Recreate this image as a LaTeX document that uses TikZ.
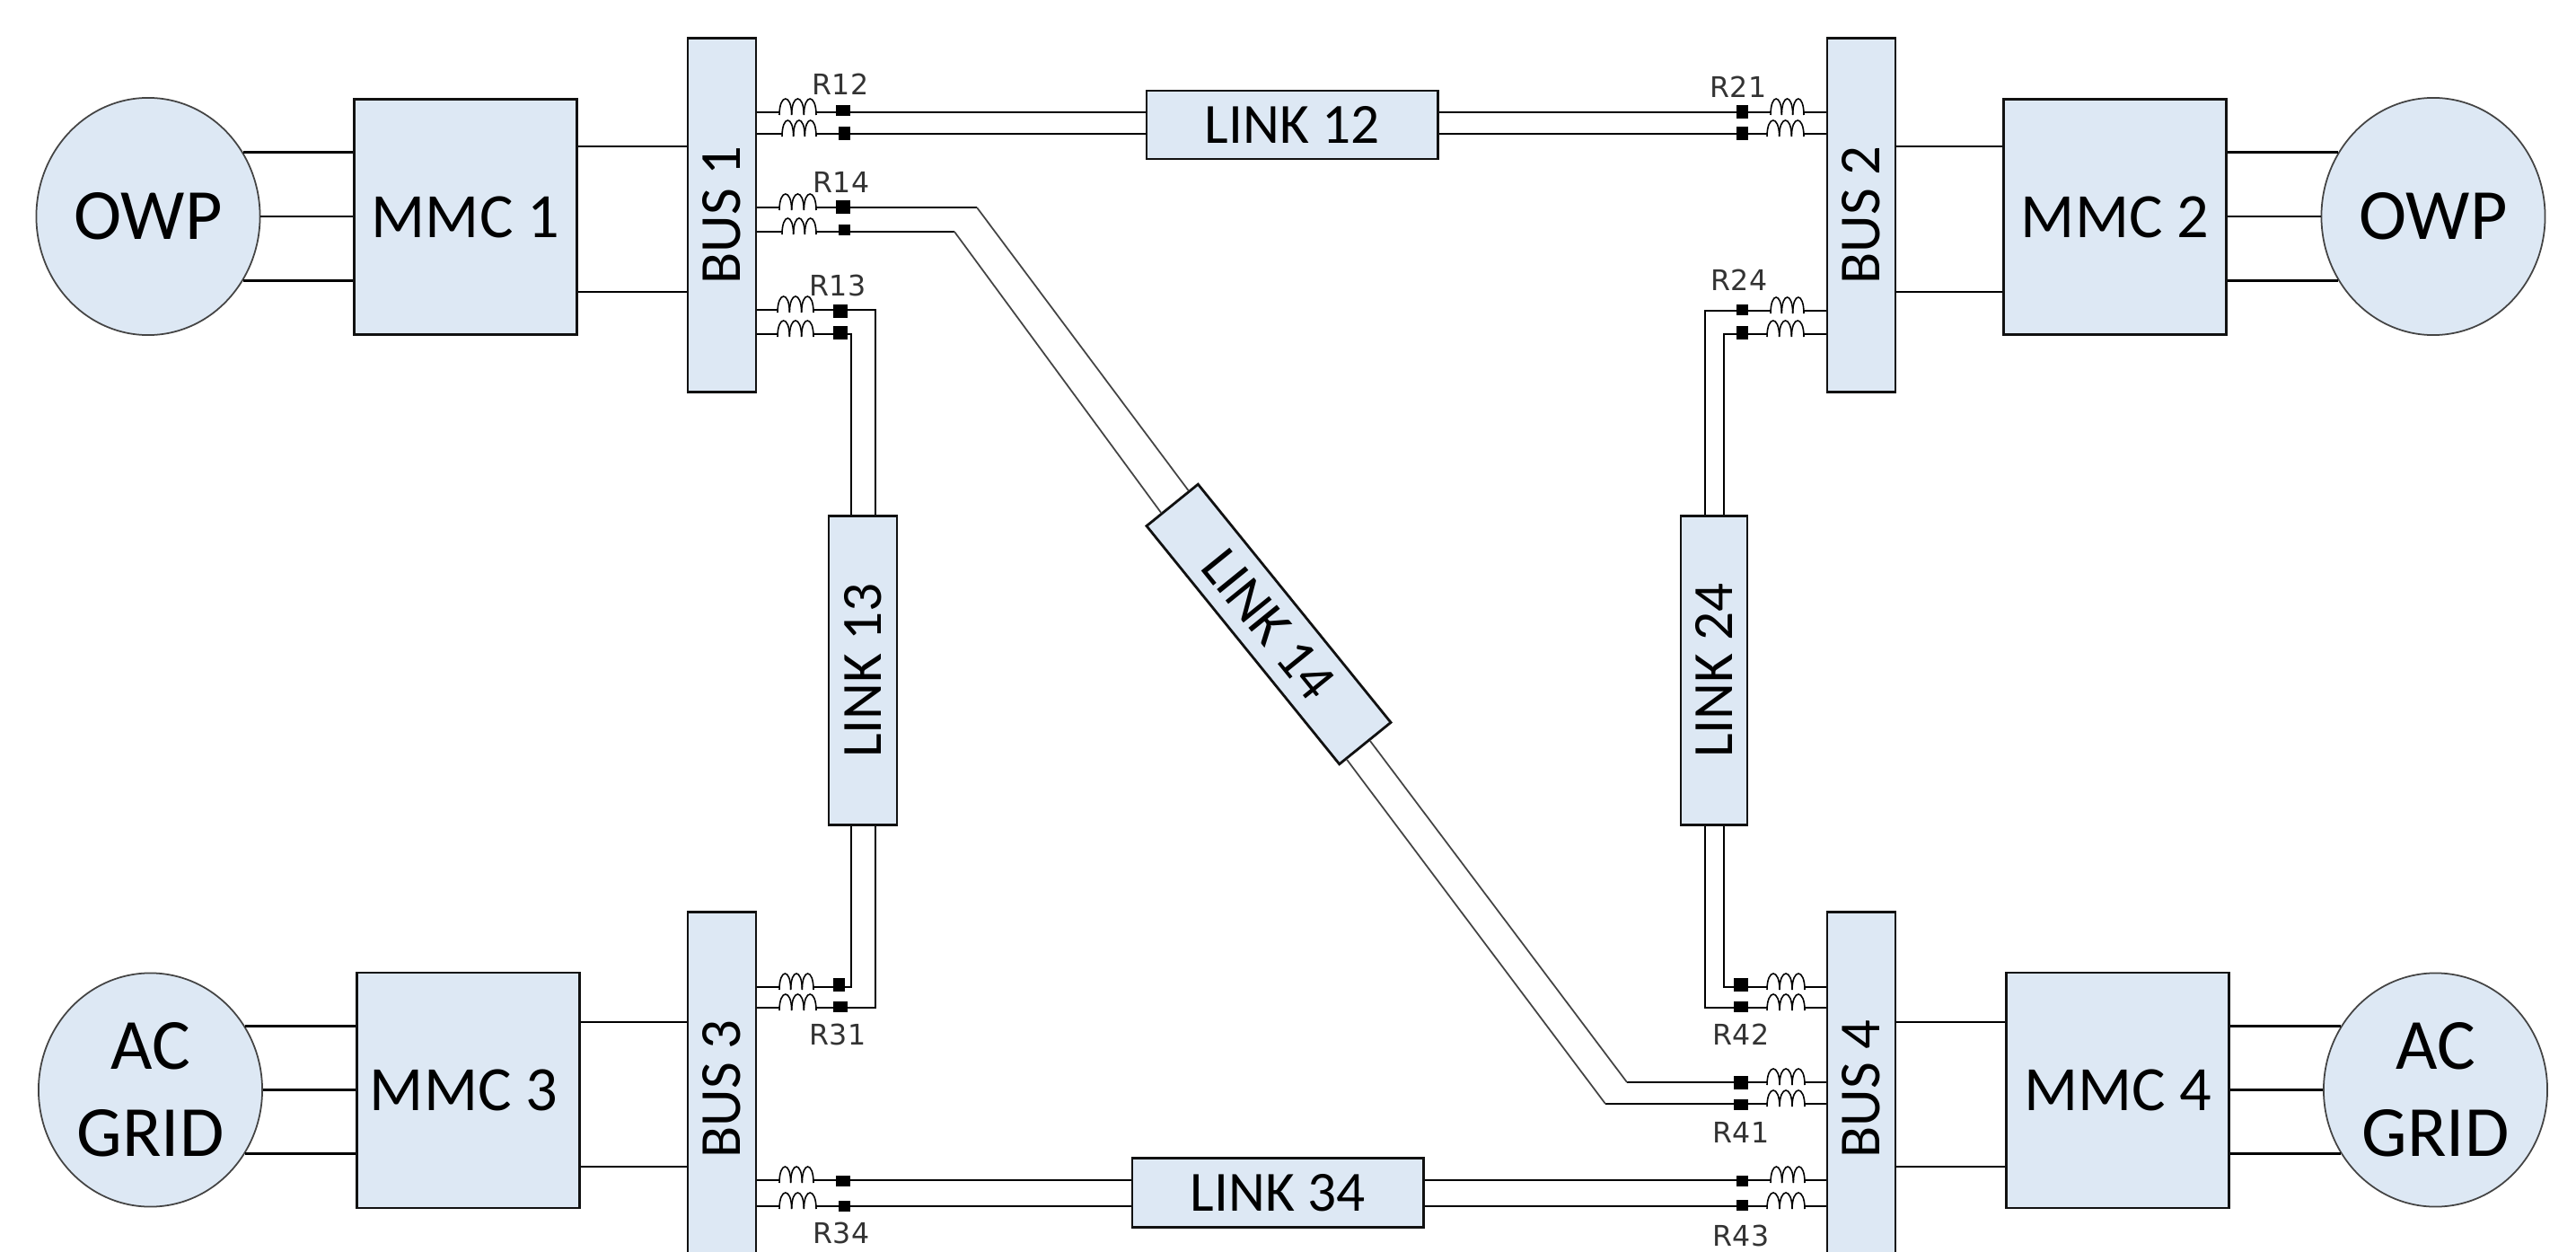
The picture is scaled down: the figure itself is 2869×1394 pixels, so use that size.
\documentclass[tikz,border=0pt]{standalone}
\usepackage{fontspec}
\setmainfont{Carlito}
\newfontfamily\tagfont{DejaVu Sans}
\usetikzlibrary{shapes.geometric}
\definecolor{box-fill}{HTML}{DDE8F4}
\definecolor{box-border}{HTML}{111111}
\definecolor{ring-border}{HTML}{444444}
\definecolor{tag-text}{HTML}{333333}
\tikzset{
  source/.style={
    ellipse, draw=ring-border, fill=box-fill, line width=0.5pt, inner sep=0pt,
    minimum width=2.49cm, minimum height=2.64cm, align=center,
    font=\fontsize{22.8}{27.6}\selectfont
  },
  mmc/.style={
    rectangle, draw=box-border, fill=box-fill, line width=0.8pt, inner sep=0pt,
    minimum width=2.48cm, minimum height=2.62cm, font=\fontsize{20}{24}\selectfont
  },
  bus/.style={
    rectangle, draw=box-border, fill=box-fill, line width=0.8pt, inner sep=0pt,
    minimum width=0.76cm, minimum height=3.93cm, font=\fontsize{18.4}{22}\selectfont
  },
  link/.style={
    rectangle, draw=box-border, fill=box-fill, line width=0.8pt, inner sep=0pt,
    font=\fontsize{18}{21}\selectfont
  },
  dot/.style={rectangle, fill=black, inner sep=0pt},
  rtag/.style={inner sep=0pt, text=tag-text, font=\tagfont\fontsize{9}{10}\selectfont},
  wire/.style={draw=black, line width=0.65pt},
  diag/.style={draw=ring-border, line width=0.5pt},
  coilline/.style={draw=black, line width=0.45pt},
  pics/coil/.style={code={
    \foreach \i in {0,1,2}
      \draw[coilline] ({\i*(#1)/3},3) .. controls ({\i*(#1)/3},-21) and ({(\i+1)*(#1)/3},-21) .. ({(\i+1)*(#1)/3},3);
  }}
}
\begin{document}
\begin{tikzpicture}[x=0.01cm, y=-0.01cm]
  \useasboundingbox (0,0) rectangle (2869,1394);

  % Sources and converters
  \node[source] (OWPL) at (165,241) {OWP};
  \node[source] (OWPR) at (2710,241) {OWP};
  \node[source, minimum height=2.6cm] (ACL) at (167.5,1213.5) {AC\\GRID};
  \node[source, minimum height=2.6cm] (ACR) at (2712.5,1213.5) {AC\\GRID};
  \node[mmc] (MMC1) at (518.5,241.5) {MMC 1};
  \node[mmc] (MMC2) at (2355.5,241.5) {MMC 2};
  \node[mmc] (MMC3) at (521.5,1214) {MMC 3\kern 2.8pt};
  \node[mmc] (MMC4) at (2358.7,1214) {MMC 4};

  % Buses
  \node[bus] (BUS1) at (804,239.5) {\rotatebox{90}{BUS 1}};
  \node[bus] (BUS2) at (2073,239.5) {\rotatebox{90}{BUS 2}};
  \node[bus] (BUS3) at (804,1212.5) {\rotatebox{90}{BUS 3}};
  \node[bus] (BUS4) at (2073,1212.5) {\rotatebox{90}{BUS 4}};

  % Links
  \node[link, minimum width=3.24cm, minimum height=0.76cm] (LINK12) at (1439,139) {LINK 12};
  \node[link, minimum width=3.24cm, minimum height=0.77cm] (LINK34) at (1423,1328) {LINK 34};
  \node[link, minimum width=0.76cm, minimum height=3.43cm] (LINK13) at (961,746.5) {\rotatebox{90}{LINK 13}};
  \node[link, minimum width=0.74cm, minimum height=3.43cm] (LINK24) at (1909,746.5) {\rotatebox{90}{LINK 24}};
  \node[link, minimum width=3.41cm, minimum height=0.737cm, rotate=-51] (LINK14) at (1413,695) {LINK 14};

  % Source to converter
  \foreach \src/\con in {OWPL/MMC1, ACL/MMC3} {
    \draw[wire] (\src.34) -- (\src.34 -| \con.west);
    \draw[wire] (\src.east) -- (\src.east -| \con.west);
    \draw[wire] (\src.-34) -- (\src.-34 -| \con.west);
  }
  \foreach \src/\con in {OWPR/MMC2, ACR/MMC4} {
    \draw[wire] (\src.146) -- (\src.146 -| \con.east);
    \draw[wire] (\src.west) -- (\src.west -| \con.east);
    \draw[wire] (\src.-146) -- (\src.-146 -| \con.east);
  }

  % Converter to bus
  \foreach \con/\bb/\ya/\yb in {MMC1/BUS1/163/325, MMC3/BUS3/1138/1299} {
    \draw[wire] (\con.east |- 0,\ya) -- (\bb.west |- 0,\ya);
    \draw[wire] (\con.east |- 0,\yb) -- (\bb.west |- 0,\yb);
  }
  \foreach \con/\bb/\ya/\yb in {MMC2/BUS2/163/325, MMC4/BUS4/1138/1299} {
    \draw[wire] (\con.west |- 0,\ya) -- (\bb.east |- 0,\ya);
    \draw[wire] (\con.west |- 0,\yb) -- (\bb.east |- 0,\yb);
  }

  % Reactor and breaker on each line
  \foreach \nm/\bb/\sd/\xa/\xb/\yy/\xd/\yd/\dw/\dh in {
    d12a/BUS1/east/868/909/125/939/123/16/12,
    d12b/BUS1/east/871/909/149/940/149/13/15,
    d14a/BUS1/east/868/909/231/939/231/16/15,
    d14b/BUS1/east/871/909/258/940/256/13/12,
    d13a/BUS1/east/866/906/345/936/346/16/15,
    d13b/BUS1/east/866/906/372/936/370/16/15,
    d31a/BUS3/east/868/906/1099/934.5/1096/13/15,
    d31b/BUS3/east/868/909/1122/936/1121/16/12,
    d34a/BUS3/east/868/906/1314/939/1315/16/12,
    d34b/BUS3/east/868/909/1343/940/1343/13/12,
    d21a/BUS2/west/2009/1972/125/1940.5/125/13/15,
    d21b/BUS2/west/2009/1968/149/1940.5/149/13/15,
    d24a/BUS2/west/2009/1972/346/1940/345/13/12,
    d24b/BUS2/west/2009/1968/372/1940/370/13/15,
    d42a/BUS4/west/2010/1968/1099/1939/1096/16/15,
    d42b/BUS4/west/2010/1968/1122/1939/1121/16/12,
    d41a/BUS4/west/2010/1968/1205/1939/1205/16/15,
    d41b/BUS4/west/2010/1968/1229/1939/1230/16/12,
    d43a/BUS4/west/2010/1972/1314/1940/1315/13/12,
    d43b/BUS4/west/2010/1968/1343/1940/1342/13/12} {
    \coordinate (\nm-in) at (\xa,\yy);
    \coordinate (\nm-out) at (\xb,\yy);
    \node[dot, minimum width=\dw*0.01cm, minimum height=\dh*0.01cm] (\nm) at (\xd,\yd) {};
    \pic at (\nm-in) {coil=\xb-\xa};
    \draw[wire] (\bb.\sd |- \nm-in) -- (\nm-in);
    \draw[wire] (\nm-out) -- (\nm-out -| \nm);
  }

  % Horizontal links
  \draw[wire] (d12a-out) -- (d12a-out -| LINK12.west);
  \draw[wire] (d12b-out) -- (d12b-out -| LINK12.west);
  \draw[wire] (d21a-out) -- (d21a-out -| LINK12.east);
  \draw[wire] (d21b-out) -- (d21b-out -| LINK12.east);
  \draw[wire] (d34a-out) -- (d34a-out -| LINK34.west);
  \draw[wire] (d34b-out) -- (d34b-out -| LINK34.west);
  \draw[wire] (d43a-out) -- (d43a-out -| LINK34.east);
  \draw[wire] (d43b-out) -- (d43b-out -| LINK34.east);

  % Vertical links
  \draw[wire] (d13a-out) -| ([xshift=1.4mm]LINK13.north);
  \draw[wire] (d13b-out) -| ([xshift=-1.3mm]LINK13.north);
  \draw[wire] (d31a-out) -| ([xshift=-1.3mm]LINK13.south);
  \draw[wire] (d31b-out) -| ([xshift=1.4mm]LINK13.south);
  \draw[wire] (d24a-out) -| ([xshift=-1mm]LINK24.north);
  \draw[wire] (d24b-out) -| ([xshift=1.1mm]LINK24.north);
  \draw[wire] (d42a-out) -| ([xshift=1.1mm]LINK24.south);
  \draw[wire] (d42b-out) -| ([xshift=-1mm]LINK24.south);

  % Diagonal link
  \coordinate (k14a) at (1088,231);
  \coordinate (k14b) at (1063,258);
  \coordinate (k41a) at (1812,1205);
  \coordinate (k41b) at (1788,1229);
  \draw[wire] (d14a-out) -- (k14a);
  \draw[wire] (d14b-out) -- (k14b);
  \draw[wire] (d41a-out) -- (k41a);
  \draw[wire] (d41b-out) -- (k41b);
  \draw[diag] (k14a) -- (LINK14.172);
  \draw[diag] (k14b) -- (LINK14.185);
  \draw[diag] (k41a) -- (LINK14.2);
  \draw[diag] (k41b) -- (LINK14.-9);

  % Reactor labels
  \node[rtag] (R12) at (936,94) {R12};
  \node[rtag] (R14) at (937,203) {R14};
  \node[rtag] (R13) at (933,317.5) {R13};
  \node[rtag] (R31) at (933,1152) {R31};
  \node[rtag] (R34) at (937,1373) {R34};
  \node[rtag] (R21) at (1936,97) {R21};
  \node[rtag] (R24) at (1937,312) {R24};
  \node[rtag] (R42) at (1939,1152) {R42};
  \node[rtag] (R41) at (1939,1261) {R41};
  \node[rtag] (R43) at (1939,1376) {R43};
\end{tikzpicture}
\end{document}
